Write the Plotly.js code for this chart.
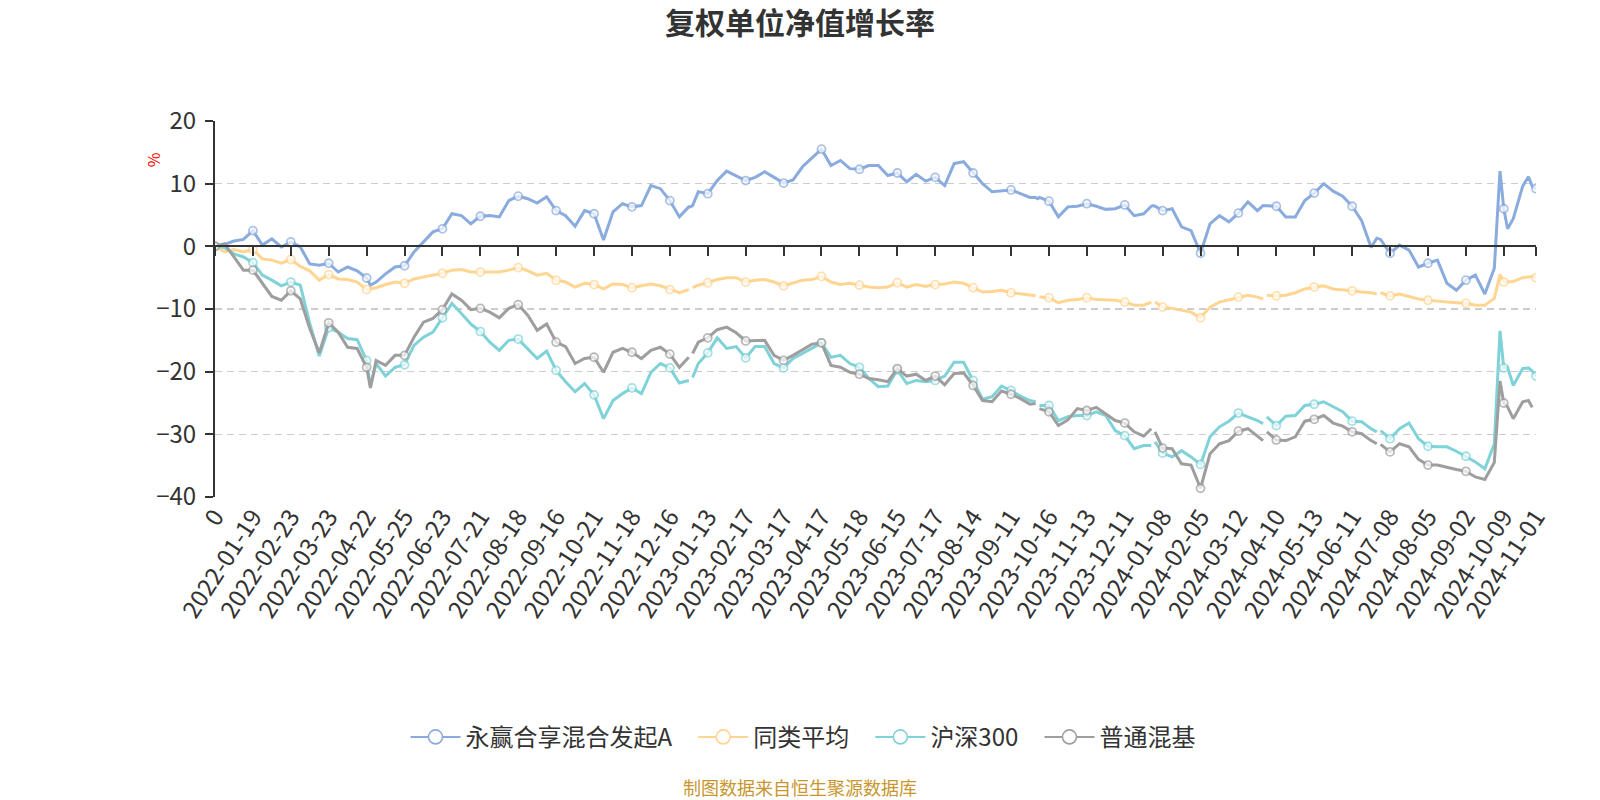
<!DOCTYPE html>
<html>
<head>
<meta charset="utf-8">
<script src="https://cdn.plot.ly/plotly-3.0.1.min.js"></script>
<style>
  html, body { margin: 0; padding: 0; background: #ffffff; }
  #chart { width: 1600px; height: 800px; }
</style>
</head>
<body>
<div id="chart"></div>
<script>
// ---- category tick labels (trading-day index -> label) ----
const tickLabels = ["0","2022-01-19","2022-02-23","2022-03-23","2022-04-22","2022-05-25","2022-06-23","2022-07-21","2022-08-18","2022-09-16","2022-10-21","2022-11-18","2022-12-16","2023-01-13","2023-02-17","2023-03-17","2023-04-17","2023-05-18","2023-06-15","2023-07-17","2023-08-14","2023-09-11","2023-10-16","2023-11-13","2023-12-11","2024-01-08","2024-02-05","2024-03-12","2024-04-10","2024-05-13","2024-06-11","2024-07-08","2024-08-05","2024-09-02","2024-10-09","2024-11-01"];
const tickPos = [0,20,40,60,80,100,120,140,160,180,200,220,240,260,280,300,320,340,360,380,400,420,440,460,480,500,520,540,560,580,600,620,640,660,680,697];

// ---- sampled trading-day indices ----
const idx = [0,5,10,15,20,25,30,35,40,45,50,55,60,65,70,75,80,82,
  85,90,95,100,105,110,115,120,125,130,135,140,145,150,155,160,165,170,175,180,185,190,195,200,205,210,215,220,225,230,235,240,245,250,
  251,252,
  255,260,265,270,275,280,285,290,295,300,305,310,315,320,325,330,335,340,345,350,355,360,365,370,375,380,385,390,395,400,405,410,415,420,425,430,
  433,434,435,
  440,445,450,455,460,465,470,475,480,485,490,
  494,495,496,
  500,505,510,515,520,525,530,535,540,545,550,
  553,554,555,
  560,565,570,575,580,585,590,595,600,605,610,
  613,614,615,
  620,625,630,635,640,645,650,655,660,665,670,675,
  678,680,682,685,690,693,695,697];

// ---- 永赢合享混合发起A ----
const fundA = [0,0.3,0.85,1.1,2.5,0.2,1.2,-0.1,0.7,-0.1,-2.8,-3.0,-2.7,-4.1,-3.3,-3.9,-5.05,-6.2,
  -5.7,-4.4,-3.3,-3.1,-0.9,0.7,2.3,2.8,5.2,4.9,3.6,4.8,4.9,4.7,7.3,8.0,7.6,6.9,7.9,5.7,4.9,3.2,5.7,5.2,1.0,5.5,6.8,6.3,6.5,9.7,9.2,7.3,4.7,6.3,
  6.3,6.5,
  8.7,8.4,10.5,12.0,11.3,10.5,11.0,11.9,11.0,10.1,10.6,12.7,14.1,15.5,12.9,13.7,12.4,12.3,12.9,12.9,11.3,11.7,10.3,11.5,10.4,11.0,9.7,13.2,13.5,11.7,10.0,8.7,8.8,9.0,8.4,7.8,
  7.8,7.6,7.8,
  7.2,4.7,6.3,6.4,6.8,6.4,5.9,6.0,6.6,4.9,5.2,
  6.4,6.5,6.4,
  5.7,6.0,3.1,2.5,-1.1,3.6,4.9,3.9,5.3,7.1,5.7,
  6.5,6.5,6.5,
  6.4,4.7,4.7,7.3,8.5,10.0,8.8,8.0,6.4,4.1,-0.2,
  1.3,1.2,1.1,
  -1.1,0.2,-0.6,-3.3,-2.7,-2.2,-5.9,-7.0,-5.4,-4.6,-7.6,-3.5,
  12.0,6.0,2.8,4.4,9.6,11.1,9.6,9.2];

// ---- 同类平均 ----
const peerAvg = [0,-0.9,-0.5,-0.9,-0.5,-2.0,-2.2,-2.7,-2.1,-3.2,-3.9,-5.4,-4.5,-5.2,-5.3,-5.7,-6.9,-6.8,
  -6.6,-6.1,-5.7,-5.9,-5.2,-4.9,-4.6,-4.3,-3.8,-3.7,-4.1,-4.1,-4.1,-4.1,-3.8,-3.4,-3.9,-4.6,-4.3,-5.4,-5.7,-6.5,-5.9,-6.1,-6.8,-6.0,-6.1,-6.6,-6.3,-6.0,-6.3,-6.9,-7.4,-6.9,
  null,-6.6,
  -6.2,-5.8,-5.3,-5.0,-5.0,-5.7,-5.4,-5.3,-5.7,-6.3,-5.9,-5.4,-5.3,-4.8,-5.7,-6.1,-5.9,-6.2,-6.5,-6.6,-6.5,-5.8,-6.5,-6.1,-6.4,-6.1,-6.0,-5.7,-5.9,-6.6,-7.3,-7.2,-7.0,-7.4,-7.6,-7.8,
  -7.9,null,-8.1,
  -8.2,-9.0,-8.6,-8.5,-8.2,-8.5,-8.6,-8.6,-8.9,-9.4,-9.4,
  -8.9,null,-8.9,
  -9.7,-9.9,-10.2,-10.5,-11.4,-9.7,-8.9,-8.5,-8.1,-7.8,-8.1,
  -8.4,null,-7.8,
  -7.9,-7.8,-7.4,-6.8,-6.5,-6.3,-6.8,-6.9,-7.1,-7.3,-7.4,
  -7.6,null,-7.4,
  -7.9,-7.6,-8.0,-8.4,-8.6,-8.8,-8.9,-9.0,-9.1,-9.4,-9.4,-8.3,
  -4.5,-5.7,-5.7,-5.6,-5.0,-4.9,-4.8,-5.0];

// ---- 沪深300 ----
const hs300 = [0,-0.2,-1.2,-1.7,-2.6,-4.6,-5.4,-6.3,-5.7,-6.2,-12.3,-17.5,-13.0,-13.7,-14.7,-14.9,-18.2,-22.4,
  -18.7,-20.7,-19.3,-18.9,-15.8,-14.5,-13.7,-11.4,-9.1,-10.7,-12.4,-13.6,-15.3,-16.6,-15.0,-14.8,-16.3,-17.9,-16.7,-19.8,-21.6,-23.2,-21.9,-23.7,-27.5,-24.6,-23.5,-22.6,-23.5,-20.1,-18.7,-19.4,-21.8,-21.4,
  null,-20.9,
  -18.7,-17.0,-14.6,-16.3,-16.0,-17.8,-16.0,-16.0,-18.7,-19.4,-17.9,-17.1,-16.3,-15.4,-17.7,-17.4,-18.7,-19.3,-21.1,-22.4,-22.3,-19.7,-21.9,-21.4,-21.6,-21.4,-20.7,-18.5,-18.5,-21.4,-24.4,-24.0,-22.3,-23.0,-23.9,-24.6,
  -24.8,null,-25.4,
  -25.4,-27.8,-27.2,-27.0,-27.0,-26.4,-27.0,-29.4,-30.2,-32.3,-31.8,
  -31.8,null,-31.2,
  -33.0,-33.6,-32.6,-33.6,-34.8,-30.4,-28.8,-27.9,-26.6,-27.2,-27.8,
  -28.3,null,-27.2,
  -28.6,-27.1,-27.0,-25.4,-25.2,-24.8,-25.6,-26.4,-27.9,-28.0,-29.1,
  -29.6,null,-29.4,
  -30.7,-29.1,-28.2,-30.7,-31.9,-32.0,-32.0,-32.7,-33.5,-34.4,-35.5,-31.5,
  -13.5,-19.4,-19.3,-22.2,-19.5,-19.4,-19.9,-20.7];

// ---- 普通混基 ----
const mixFund = [0,0.4,-1.7,-3.8,-3.8,-6.0,-8.0,-8.6,-7.1,-8.4,-13.1,-17.0,-12.2,-13.7,-16.1,-16.3,-19.3,-22.6,
  -18.2,-19.0,-17.4,-17.4,-14.5,-12.1,-11.5,-10.1,-7.6,-8.6,-10.1,-9.9,-10.5,-11.4,-9.9,-9.3,-11.0,-13.4,-12.4,-15.3,-16.0,-18.7,-17.9,-17.7,-20.1,-16.9,-16.3,-16.9,-17.9,-16.6,-16.1,-17.2,-19.3,-17.7,
  null,-17.1,
  -15.3,-14.6,-13.3,-12.9,-13.8,-15.1,-15.0,-15.0,-17.4,-18.2,-17.4,-16.5,-15.6,-15.4,-19.0,-19.3,-20.1,-20.4,-21.1,-21.3,-21.6,-19.5,-20.7,-20.4,-21.4,-20.7,-22.1,-20.3,-20.2,-22.2,-24.6,-24.8,-23.1,-23.6,-24.3,-25.2,
  -25.1,null,-25.9,
  -26.4,-28.6,-27.7,-25.9,-26.2,-25.7,-26.7,-27.8,-28.2,-29.6,-30.3,
  -29.1,null,-29.6,
  -32.2,-32.3,-34.7,-34.9,-38.6,-33.1,-31.5,-31.0,-29.5,-29.1,-30.2,
  -31.0,null,-29.6,
  -30.9,-31.0,-30.4,-27.9,-27.6,-27.0,-28.2,-28.7,-29.6,-29.9,-31.0,
  -31.5,null,-31.6,
  -32.8,-31.5,-32.0,-34.0,-34.9,-34.9,-35.3,-35.6,-35.9,-36.8,-37.2,-34.5,
  -21.5,-25.0,-25.6,-27.5,-24.8,-24.6,-25.7,null];

const seriesNames = ["永赢合享混合发起A", "同类平均", "沪深300", "普通混基"];
const seriesColors = ["#8aabde", "#ffd591", "#7fd3d8", "#9e9e9e"];
const seriesValues = [fundA, peerAvg, hs300, mixFund];

const FONT = '"Noto Sans CJK SC", "Noto Sans", sans-serif';
const markerIdx = new Set(tickPos);
const mSize = idx.map(i => markerIdx.has(i) ? 8 : 0);
const mLine = idx.map(i => markerIdx.has(i) ? 1.8 : 0);

const traces = seriesValues.map((vals, k) => ({
  type: 'scatter',
  mode: 'lines+markers',
  name: seriesNames[k],
  x: idx,
  y: vals,
  xaxis: 'x',
  yaxis: 'y',
  showlegend: false,
  connectgaps: false,
  line: { color: seriesColors[k], width: 3 },
  marker: {
    symbol: 'circle',
    size: mSize,
    color: '#ffffff',
    line: { color: seriesColors[k], width: mLine }
  },
  hoverinfo: 'skip'
}));

// legend entries (same series, legend styling only; carry no points)
const legendPad = '\u00a0\u00a0\u00a0';
seriesNames.forEach((nm, k) => {
  traces.push({
    type: 'scatter', mode: 'lines+markers',
    name: k < seriesNames.length - 1 ? nm + legendPad : nm,
    x: [null], y: [null], xaxis: 'x', yaxis: 'y',
    showlegend: true, hoverinfo: 'skip',
    line: { color: seriesColors[k], width: 2 },
    marker: { symbol: 'circle', size: 14, color: '#ffffff', line: { color: seriesColors[k], width: 1.6 } }
  });
});

// invisible helper so the zero-crossing tick axis is rendered
traces.push({
  type: 'scatter', mode: 'markers', x: [tickPos[0]], y: [0],
  xaxis: 'x2', yaxis: 'y', showlegend: false, hoverinfo: 'skip',
  marker: { opacity: 0, size: 1 }
});

const yMin = -40, yMax = 20;

const layout = {
  width: 1600,
  height: 800,
  paper_bgcolor: '#ffffff',
  plot_bgcolor: '#ffffff',
  margin: { l: 215, r: 64, t: 121, b: 303, pad: 0 },
  font: { family: FONT, color: '#333333' },
  title: {
    text: '复权单位净值增长率',
    font: { family: FONT, size: 30, color: '#333333', weight: 'bold' },
    x: 0.5, xanchor: 'center',
    y: 1 - 23 / 800, yanchor: 'middle', yref: 'container'
  },
  showlegend: true,
  legend: {
    orientation: 'h',
    x: (803 - 215) / 1321, xanchor: 'center',
    y: (496.7 - 737) / 376, yanchor: 'middle',
    font: { family: FONT, size: 24, color: '#333333' },
    itemsizing: 'trace',
    itemwidth: 50,
    bgcolor: 'rgba(0,0,0,0)'
  },
  xaxis: {
    range: [tickPos[0], tickPos[tickPos.length - 1]],
    tickmode: 'array',
    tickvals: tickPos,
    ticktext: tickLabels,
    tickangle: -57,
    tickfont: { family: FONT, size: 24, color: '#333333' },
    ticks: '',
    showline: false,
    showgrid: false,
    zeroline: false,
    fixedrange: true
  },
  xaxis2: {
    overlaying: 'x',
    anchor: 'free',
    position: (0 - yMin) / (yMax - yMin),
    range: [tickPos[0], tickPos[tickPos.length - 1]],
    tickmode: 'array',
    tickvals: tickPos,
    showticklabels: false,
    ticks: 'outside',
    ticklen: 9,
    tickwidth: 2,
    tickcolor: '#333333',
    showline: true,
    linecolor: '#333333',
    linewidth: 2,
    showgrid: false,
    zeroline: false
  },
  yaxis: {
    range: [yMin, yMax],
    tick0: 0,
    dtick: 10,
    tickfont: { family: FONT, size: 24, color: '#333333' },
    ticks: 'outside',
    ticklen: 8,
    tickwidth: 2,
    tickcolor: '#333333',
    ticklabelstandoff: 4,
    showline: true,
    linecolor: '#333333',
    linewidth: 2,
    showgrid: true,
    gridcolor: '#cccccc',
    gridwidth: 1.5,
    griddash: '7px,5px',
    zeroline: false,
    fixedrange: true
  },
  annotations: [
    {
      text: '%', xref: 'paper', yref: 'paper',
      x: (153 - 215) / 1321, y: (496.7 - 160) / 376,
      xanchor: 'center', yanchor: 'middle', showarrow: false,
      textangle: -90,
      font: { family: FONT, size: 16, color: '#ff0000' }
    },
    {
      text: '制图数据来自恒生聚源数据库', xref: 'paper', yref: 'paper',
      x: (800 - 215) / 1321, y: (496.7 - 787) / 376,
      xanchor: 'center', yanchor: 'middle', showarrow: false,
      font: { family: FONT, size: 18, color: '#c8962d' }
    }
  ]
};

Plotly.newPlot('chart', traces, layout, { displayModeBar: false, staticPlot: true });
</script>
</body>
</html>
